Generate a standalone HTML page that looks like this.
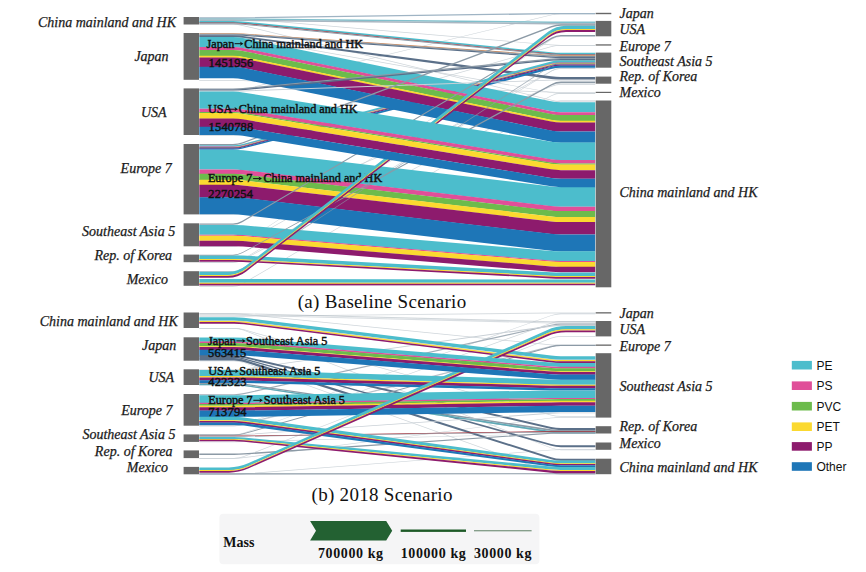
<!DOCTYPE html>
<html><head><meta charset="utf-8"><style>
html,body{margin:0;padding:0;background:#fff;}
svg{display:block;}
.lab{font-family:"Liberation Serif",serif;font-style:italic;font-size:14px;fill:#1a1a1a;stroke:#1a1a1a;stroke-width:0.25px;}
.ft{font-family:"Liberation Serif",serif;font-size:12.2px;fill:#111;stroke:#111;stroke-width:0.45px;}
.num{font-size:12.4px;letter-spacing:0.2px;}
.ttl{font-family:"Liberation Serif",serif;font-size:19px;fill:#111;letter-spacing:0.3px;}
.leg{font-family:"Liberation Sans",sans-serif;font-size:12px;fill:#111;}
.mass{font-family:"Liberation Serif",serif;font-weight:bold;font-size:14px;fill:#111;}
.kg{font-family:"Liberation Serif",serif;font-weight:bold;font-size:14px;fill:#111;letter-spacing:0.6px;}
</style></head><body>
<svg width="866" height="572" viewBox="0 0 866 572">
<path d=" M199.30,24.00 L233.00,24.00 Q238.00,24.00 242.86,25.17 L551.14,99.63 Q556.00,100.80 561.00,100.80 L595.20,100.80 L595.20,101.55 L561.00,101.55 Q556.00,101.55 551.14,100.38 L242.86,25.92 Q238.00,24.75 233.00,24.75 L199.30,24.75 Z" fill="#c9d0d6" fill-opacity="0.9"/>
<path d=" M199.30,80.00 L233.00,80.00 Q238.00,80.00 243.00,80.19 L551.00,91.81 Q556.00,92.00 561.00,92.00 L595.20,92.00 L595.20,92.75 L561.00,92.75 Q556.00,92.75 551.00,92.56 L243.00,80.94 Q238.00,80.75 233.00,80.75 L199.30,80.75 Z" fill="#c9d0d6" fill-opacity="0.9"/>
<path d=" M199.30,135.00 L233.00,135.00 Q238.00,135.00 242.81,133.64 L551.19,46.36 Q556.00,45.00 561.00,45.00 L595.20,45.00 L595.20,45.75 L561.00,45.75 Q556.00,45.75 551.19,47.11 L242.81,134.39 Q238.00,135.75 233.00,135.75 L199.30,135.75 Z" fill="#c9d0d6" fill-opacity="0.9"/>
<path d=" M199.30,214.00 L233.00,214.00 Q238.00,214.00 242.63,212.11 L551.37,85.89 Q556.00,84.00 561.00,84.00 L595.20,84.00 L595.20,84.75 L561.00,84.75 Q556.00,84.75 551.37,86.64 L242.63,212.86 Q238.00,214.75 233.00,214.75 L199.30,214.75 Z" fill="#c9d0d6" fill-opacity="0.9"/>
<path d=" M199.30,246.00 L233.00,246.00 Q238.00,246.00 242.36,243.56 L551.64,70.44 Q556.00,68.00 561.00,68.00 L595.20,68.00 L595.20,68.75 L561.00,68.75 Q556.00,68.75 551.64,71.19 L242.36,244.31 Q238.00,246.75 233.00,246.75 L199.30,246.75 Z" fill="#c9d0d6" fill-opacity="0.9"/>
<path d=" M199.30,262.00 L233.00,262.00 Q238.00,262.00 242.42,259.65 L551.58,95.35 Q556.00,93.00 561.00,93.00 L595.20,93.00 L595.20,93.75 L561.00,93.75 Q556.00,93.75 551.58,96.10 L242.42,260.40 Q238.00,262.75 233.00,262.75 L199.30,262.75 Z" fill="#c9d0d6" fill-opacity="0.9"/>
<path d=" M199.30,246.30 L233.00,246.30 Q238.00,246.30 242.17,243.54 L551.83,38.76 Q556.00,36.00 561.00,36.00 L595.20,36.00 L595.20,36.75 L561.00,36.75 Q556.00,36.75 551.83,39.51 L242.17,244.19 Q238.00,246.95 233.00,246.95 L199.30,246.95 Z" fill="#c9d0d6" fill-opacity="0.9"/>
<path d=" M199.30,262.00 L233.00,262.00 Q238.00,262.00 242.27,259.40 L551.73,70.60 Q556.00,68.00 561.00,68.00 L595.20,68.00 L595.20,68.65 L561.00,68.65 Q556.00,68.65 551.73,71.25 L242.27,260.05 Q238.00,262.65 233.00,262.65 L199.30,262.65 Z" fill="#c9d0d6" fill-opacity="0.9"/>
<path d=" M199.30,286.00 L233.00,286.00 Q238.00,286.00 242.32,283.48 L551.68,103.02 Q556.00,100.50 561.00,100.50 L595.20,100.50 L595.20,101.15 L561.00,101.15 Q556.00,101.15 551.68,103.67 L242.32,284.23 Q238.00,286.75 233.00,286.75 L199.30,286.75 Z" fill="#c9d0d6" fill-opacity="0.9"/>
<path d=" M199.30,18.00 L233.00,18.00 Q238.00,18.00 242.98,18.42 L551.02,44.58 Q556.00,45.00 561.00,45.00 L595.20,45.00 L595.20,45.65 L561.00,45.65 Q556.00,45.65 551.02,45.23 L242.98,19.07 Q238.00,18.65 233.00,18.65 L199.30,18.65 Z" fill="#c9d0d6" fill-opacity="0.9"/>
<path d=" M199.30,36.50 L233.00,36.50 Q238.00,36.50 242.92,37.37 L551.08,92.13 Q556.00,93.00 561.00,93.00 L595.20,93.00 L595.20,93.65 L561.00,93.65 Q556.00,93.65 551.08,92.78 L242.92,38.02 Q238.00,37.15 233.00,37.15 L199.30,37.15 Z" fill="#c9d0d6" fill-opacity="0.9"/>
<path d=" M199.30,90.50 L233.00,90.50 Q238.00,90.50 242.86,89.32 L551.14,14.68 Q556.00,13.50 561.00,13.50 L595.20,13.50 L595.20,14.15 L561.00,14.15 Q556.00,14.15 551.14,15.33 L242.86,89.97 Q238.00,91.15 233.00,91.15 L199.30,91.15 Z" fill="#c9d0d6" fill-opacity="0.9"/>
<path d=" M199.30,17.30 L233.00,17.30 Q238.00,17.30 243.00,17.23 L551.00,12.97 Q556.00,12.90 561.00,12.90 L595.20,12.90 L595.20,14.25 L561.00,14.25 Q556.00,14.25 551.00,14.32 L243.00,18.48 Q238.00,18.55 233.00,18.55 L199.30,18.55 Z" fill="#9fb4c4"/>
<path d=" M199.30,18.40 L233.00,18.40 Q238.00,18.40 243.00,18.45 L551.00,21.45 Q556.00,21.50 561.00,21.50 L595.20,21.50 L595.20,23.05 L561.00,23.05 Q556.00,23.05 551.00,23.00 L243.00,19.80 Q238.00,19.75 233.00,19.75 L199.30,19.75 Z" fill="#7fc0cc"/>
<path d=" M199.30,19.60 L233.00,19.60 Q238.00,19.60 243.00,19.65 L551.00,22.85 Q556.00,22.90 561.00,22.90 L595.20,22.90 L595.20,24.45 L561.00,24.45 Q556.00,24.45 551.00,24.39 L243.00,21.01 Q238.00,20.95 233.00,20.95 L199.30,20.95 Z" fill="#a9b7c2"/>
<path d=" M199.30,21.00 L233.00,21.00 Q238.00,21.00 242.98,21.50 L551.02,52.20 Q556.00,52.70 561.00,52.70 L595.20,52.70 L595.20,54.15 L561.00,54.15 Q556.00,54.15 551.02,53.66 L242.98,23.14 Q238.00,22.65 233.00,22.65 L199.30,22.65 Z" fill="#4cbdcc"/>
<path d=" M199.30,22.50 L233.00,22.50 Q238.00,22.50 242.98,22.99 L551.02,53.51 Q556.00,54.00 561.00,54.00 L595.20,54.00 L595.20,54.71 L561.00,54.71 Q556.00,54.71 551.02,54.22 L242.98,23.78 Q238.00,23.29 233.00,23.29 L199.30,23.29 Z" fill="#a0303a"/>
<path d=" M199.30,23.14 L233.00,23.14 Q238.00,23.14 242.98,23.63 L551.02,54.07 Q556.00,54.56 561.00,54.56 L595.20,54.56 L595.20,55.45 L561.00,55.45 Q556.00,55.45 551.02,54.96 L242.98,24.64 Q238.00,24.15 233.00,24.15 L199.30,24.15 Z" fill="#8c9aa6"/>
<path d=" M199.30,33.20 L233.00,33.20 Q238.00,33.20 242.99,33.55 L551.01,54.95 Q556.00,55.30 561.00,55.30 L595.20,55.30 L595.20,56.10 L561.00,56.10 Q556.00,56.10 551.01,55.75 L242.99,34.22 Q238.00,33.88 233.00,33.88 L199.30,33.88 Z" fill="#d08a5a"/>
<path d=" M199.30,33.73 L233.00,33.73 Q238.00,33.73 242.99,34.07 L551.01,55.60 Q556.00,55.95 561.00,55.95 L595.20,55.95 L595.20,56.97 L561.00,56.97 Q556.00,56.97 551.01,56.62 L242.99,34.93 Q238.00,34.57 233.00,34.57 L199.30,34.57 Z" fill="#8c9aa6"/>
<path d=" M199.30,34.42 L233.00,34.42 Q238.00,34.42 242.99,34.78 L551.01,56.47 Q556.00,56.82 561.00,56.82 L595.20,56.82 L595.20,58.05 L561.00,58.05 Q556.00,58.05 551.01,57.70 L242.99,35.80 Q238.00,35.45 233.00,35.45 L199.30,35.45 Z" fill="#5b7089"/>
<path d=" M199.30,35.30 L233.00,35.30 Q238.00,35.30 242.96,35.95 L551.04,76.35 Q556.00,77.00 561.00,77.00 L595.20,77.00 L595.20,79.65 L561.00,79.65 Q556.00,79.65 551.04,78.99 L242.96,37.71 Q238.00,37.05 233.00,37.05 L199.30,37.05 Z" fill="#5b7089"/>
<path d=" M199.30,145.20 L233.00,145.20 Q238.00,145.20 242.83,143.91 L551.17,61.49 Q556.00,60.20 561.00,60.20 L595.20,60.20 L595.20,62.63 L561.00,62.63 Q556.00,62.63 551.17,63.91 L242.83,145.46 Q238.00,146.73 233.00,146.73 L199.30,146.73 Z" fill="#4cbdcc"/>
<path d=" M199.30,146.58 L233.00,146.58 Q238.00,146.58 242.83,145.31 L551.17,63.76 Q556.00,62.48 561.00,62.48 L595.20,62.48 L595.20,63.20 L561.00,63.20 Q556.00,63.20 551.17,64.47 L242.83,145.81 Q238.00,147.08 233.00,147.08 L199.30,147.08 Z" fill="#e04f99"/>
<path d=" M199.30,146.93 L233.00,146.93 Q238.00,146.93 242.83,145.66 L551.17,64.32 Q556.00,63.05 561.00,63.05 L595.20,63.05 L595.20,63.77 L561.00,63.77 Q556.00,63.77 551.16,65.04 L242.84,146.15 Q238.00,147.43 233.00,147.43 L199.30,147.43 Z" fill="#fbd930"/>
<path d=" M199.30,147.28 L233.00,147.28 Q238.00,147.28 242.84,146.00 L551.16,64.89 Q556.00,63.62 561.00,63.62 L595.20,63.62 L595.20,64.62 L561.00,64.62 Q556.00,64.62 551.16,65.89 L242.84,146.68 Q238.00,147.95 233.00,147.95 L199.30,147.95 Z" fill="#5b7089"/>
<path d=" M199.30,147.80 L233.00,147.80 Q238.00,147.80 242.84,146.53 L551.16,65.74 Q556.00,64.47 561.00,64.47 L595.20,64.47 L595.20,65.76 L561.00,65.76 Q556.00,65.76 551.16,67.02 L242.84,147.38 Q238.00,148.64 233.00,148.64 L199.30,148.64 Z" fill="#8d1b6d"/>
<path d=" M199.30,148.49 L233.00,148.49 Q238.00,148.49 242.84,147.23 L551.16,66.87 Q556.00,65.61 561.00,65.61 L595.20,65.61 L595.20,67.75 L561.00,67.75 Q556.00,67.75 551.16,69.00 L242.84,148.60 Q238.00,149.85 233.00,149.85 L199.30,149.85 Z" fill="#1e76b7"/>
<path d=" M199.30,149.70 L233.00,149.70 Q238.00,149.70 242.97,150.28 L551.03,186.42 Q556.00,187.00 561.00,187.00 L595.20,187.00 L595.20,206.85 L561.00,206.85 Q556.00,206.85 551.03,206.27 L242.97,170.19 Q238.00,169.61 233.00,169.61 L199.30,169.61 Z" fill="#4cbdcc"/>
<path d=" M199.30,169.46 L233.00,169.46 Q238.00,169.46 242.97,170.04 L551.03,206.12 Q556.00,206.70 561.00,206.70 L595.20,206.70 L595.20,211.25 L561.00,211.25 Q556.00,211.25 551.03,210.67 L242.97,174.61 Q238.00,174.02 233.00,174.02 L199.30,174.02 Z" fill="#e04f99"/>
<path d=" M199.30,173.87 L233.00,173.87 Q238.00,173.87 242.97,174.46 L551.03,210.52 Q556.00,211.10 561.00,211.10 L595.20,211.10 L595.20,217.15 L561.00,217.15 Q556.00,217.15 551.03,216.57 L242.97,180.52 Q238.00,179.94 233.00,179.94 L199.30,179.94 Z" fill="#6cbb4c"/>
<path d=" M199.30,179.79 L233.00,179.79 Q238.00,179.79 242.97,180.37 L551.03,216.42 Q556.00,217.00 561.00,217.00 L595.20,217.00 L595.20,222.15 L561.00,222.15 Q556.00,222.15 551.03,221.57 L242.97,185.54 Q238.00,184.96 233.00,184.96 L199.30,184.96 Z" fill="#fbd930"/>
<path d=" M199.30,184.81 L233.00,184.81 Q238.00,184.81 242.97,185.39 L551.03,221.42 Q556.00,222.00 561.00,222.00 L595.20,222.00 L595.20,234.55 L561.00,234.55 Q556.00,234.55 551.03,233.97 L242.97,197.98 Q238.00,197.40 233.00,197.40 L199.30,197.40 Z" fill="#8d1b6d"/>
<path d=" M199.30,197.25 L233.00,197.25 Q238.00,197.25 242.97,197.83 L551.03,233.82 Q556.00,234.40 561.00,234.40 L595.20,234.40 L595.20,251.45 L561.00,251.45 Q556.00,251.45 551.03,250.87 L242.97,214.93 Q238.00,214.35 233.00,214.35 L199.30,214.35 Z" fill="#1e76b7"/>
<path d=" M199.30,224.90 L233.00,224.90 Q238.00,224.90 242.98,225.31 L551.02,250.89 Q556.00,251.30 561.00,251.30 L595.20,251.30 L595.20,261.05 L561.00,261.05 Q556.00,261.05 551.02,260.64 L242.98,235.25 Q238.00,234.84 233.00,234.84 L199.30,234.84 Z" fill="#4cbdcc"/>
<path d=" M199.30,234.69 L233.00,234.69 Q238.00,234.69 242.98,235.10 L551.02,260.49 Q556.00,260.90 561.00,260.90 L595.20,260.90 L595.20,262.05 L561.00,262.05 Q556.00,262.05 551.02,261.64 L242.98,236.27 Q238.00,235.85 233.00,235.85 L199.30,235.85 Z" fill="#e04f99"/>
<path d=" M199.30,235.70 L233.00,235.70 Q238.00,235.70 242.98,236.12 L551.02,261.49 Q556.00,261.90 561.00,261.90 L595.20,261.90 L595.20,266.95 L561.00,266.95 Q556.00,266.95 551.02,266.54 L242.98,241.26 Q238.00,240.85 233.00,240.85 L199.30,240.85 Z" fill="#fbd930"/>
<path d=" M199.30,240.70 L233.00,240.70 Q238.00,240.70 242.98,241.11 L551.02,266.39 Q556.00,266.80 561.00,266.80 L595.20,266.80 L595.20,272.15 L561.00,272.15 Q556.00,272.15 551.02,271.74 L242.98,246.56 Q238.00,246.15 233.00,246.15 L199.30,246.15 Z" fill="#8d1b6d"/>
<path d=" M199.30,255.30 L233.00,255.30 Q238.00,255.30 242.99,255.57 L551.01,272.23 Q556.00,272.50 561.00,272.50 L595.20,272.50 L595.20,276.21 L561.00,276.21 Q556.00,276.21 551.01,275.95 L242.99,259.46 Q238.00,259.19 233.00,259.19 L199.30,259.19 Z" fill="#4cbdcc"/>
<path d=" M199.30,259.04 L233.00,259.04 Q238.00,259.04 242.99,259.31 L551.01,275.80 Q556.00,276.06 561.00,276.06 L595.20,276.06 L595.20,277.15 L561.00,277.15 Q556.00,277.15 551.01,276.88 L242.99,260.44 Q238.00,260.18 233.00,260.18 L199.30,260.18 Z" fill="#fbd930"/>
<path d=" M199.30,260.03 L233.00,260.03 Q238.00,260.03 242.99,260.29 L551.01,276.73 Q556.00,277.00 561.00,277.00 L595.20,277.00 L595.20,278.65 L561.00,278.65 Q556.00,278.65 551.01,278.38 L242.99,262.02 Q238.00,261.75 233.00,261.75 L199.30,261.75 Z" fill="#8d1b6d"/>
<path d=" M199.30,279.00 L233.00,279.00 Q238.00,279.00 243.00,279.01 L551.00,279.49 Q556.00,279.50 561.00,279.50 L595.20,279.50 L595.20,282.84 L561.00,282.84 Q556.00,282.84 551.00,282.84 L243.00,282.81 Q238.00,282.81 233.00,282.81 L199.30,282.81 Z" fill="#4cbdcc"/>
<path d=" M199.30,282.66 L233.00,282.66 Q238.00,282.66 243.00,282.66 L551.00,282.69 Q556.00,282.69 561.00,282.69 L595.20,282.69 L595.20,283.82 L561.00,283.82 Q556.00,283.82 551.00,283.82 L243.00,283.92 Q238.00,283.93 233.00,283.93 L199.30,283.93 Z" fill="#fbd930"/>
<path d=" M199.30,283.78 L233.00,283.78 Q238.00,283.78 243.00,283.77 L551.00,283.67 Q556.00,283.67 561.00,283.67 L595.20,283.67 L595.20,285.15 L561.00,285.15 Q556.00,285.15 551.00,285.15 L243.00,285.45 Q238.00,285.45 233.00,285.45 L199.30,285.45 Z" fill="#8d1b6d"/>
<path d=" M199.30,36.90 L233.00,36.90 Q238.00,36.90 242.90,37.91 L551.10,101.29 Q556.00,102.30 561.00,102.30 L595.20,102.30 L595.20,112.30 L561.00,112.30 Q556.00,112.30 551.10,111.30 L242.90,48.15 Q238.00,47.15 233.00,47.15 L199.30,47.15 Z" fill="#4cbdcc"/>
<path d=" M199.30,47.00 L233.00,47.00 Q238.00,47.00 242.90,48.00 L551.10,111.15 Q556.00,112.15 561.00,112.15 L595.20,112.15 L595.20,115.13 L561.00,115.13 Q556.00,115.13 551.10,114.13 L242.90,51.05 Q238.00,50.05 233.00,50.05 L199.30,50.05 Z" fill="#e04f99"/>
<path d=" M199.30,49.90 L233.00,49.90 Q238.00,49.90 242.90,50.90 L551.10,113.98 Q556.00,114.98 561.00,114.98 L595.20,114.98 L595.20,120.89 L561.00,120.89 Q556.00,120.89 551.10,119.89 L242.90,56.95 Q238.00,55.95 233.00,55.95 L199.30,55.95 Z" fill="#6cbb4c"/>
<path d=" M199.30,55.80 L233.00,55.80 Q238.00,55.80 242.90,56.80 L551.10,119.74 Q556.00,120.74 561.00,120.74 L595.20,120.74 L595.20,122.65 L561.00,122.65 Q556.00,122.65 551.10,121.65 L242.90,58.75 Q238.00,57.75 233.00,57.75 L199.30,57.75 Z" fill="#fbd930"/>
<path d=" M199.30,57.60 L233.00,57.60 Q238.00,57.60 242.90,58.60 L551.10,121.50 Q556.00,122.50 561.00,122.50 L595.20,122.50 L595.20,131.62 L561.00,131.62 Q556.00,131.62 551.10,130.63 L242.90,67.95 Q238.00,66.95 233.00,66.95 L199.30,66.95 Z" fill="#8d1b6d"/>
<path d=" M199.30,66.80 L233.00,66.80 Q238.00,66.80 242.90,67.80 L551.10,130.48 Q556.00,131.47 561.00,131.47 L595.20,131.47 L595.20,142.65 L561.00,142.65 Q556.00,142.65 551.10,141.66 L242.90,79.24 Q238.00,78.25 233.00,78.25 L199.30,78.25 Z" fill="#1e76b7"/>
<text x="206.5" y="47.6" class="ft" text-anchor="start">Japan</text>
<path d="M234.60,43.70 H241.00" stroke="#111" stroke-width="1.0" fill="none"/><path d="M240.00,41.60 L243.40,43.70 L240.00,45.80 L240.80,43.70 Z" fill="#111"/>
<text x="244.3" y="47.6" class="ft" text-anchor="start">China mainland and HK</text>
<text x="208.6" y="67.3" class="ft num" text-anchor="start">1451956</text>
<path d=" M199.30,88.50 L233.00,88.50 Q238.00,88.50 242.98,88.02 L551.02,58.38 Q556.00,57.90 561.00,57.90 L595.20,57.90 L595.20,59.20 L561.00,59.20 Q556.00,59.20 551.02,59.68 L242.98,89.22 Q238.00,89.70 233.00,89.70 L199.30,89.70 Z" fill="#8c9aa6"/>
<path d=" M199.30,89.55 L233.00,89.55 Q238.00,89.55 242.98,89.07 L551.02,59.53 Q556.00,59.05 561.00,59.05 L595.20,59.05 L595.20,60.35 L561.00,60.35 Q556.00,60.35 551.02,60.83 L242.98,90.27 Q238.00,90.75 233.00,90.75 L199.30,90.75 Z" fill="#5b7089"/>
<path d=" M199.30,90.60 L233.00,90.60 Q238.00,90.60 243.00,90.43 L551.00,79.67 Q556.00,79.50 561.00,79.50 L595.20,79.50 L595.20,80.45 L561.00,80.45 Q556.00,80.45 551.00,80.62 L243.00,91.38 Q238.00,91.55 233.00,91.55 L199.30,91.55 Z" fill="#c9d0d6"/>
<path d=" M199.30,144.10 L233.00,144.10 Q238.00,144.10 242.68,142.34 L551.32,26.06 Q556.00,24.30 561.00,24.30 L595.20,24.30 L595.20,25.85 L561.00,25.85 Q556.00,25.85 551.32,27.61 L242.68,143.59 Q238.00,145.35 233.00,145.35 L199.30,145.35 Z" fill="#8c9aa6"/>
<path d=" M199.30,223.40 L233.00,223.40 Q238.00,223.40 242.30,220.85 L551.70,37.55 Q556.00,35.00 561.00,35.00 L595.20,35.00 L595.20,36.35 L561.00,36.35 Q556.00,36.35 551.70,38.90 L242.30,222.20 Q238.00,224.75 233.00,224.75 L199.30,224.75 Z" fill="#8c9aa6"/>
<path d=" M199.30,254.70 L233.00,254.70 Q238.00,254.70 242.39,252.31 L551.61,83.89 Q556.00,81.50 561.00,81.50 L595.20,81.50 L595.20,83.15 L561.00,83.15 Q556.00,83.15 551.60,85.53 L242.40,253.07 Q238.00,255.45 233.00,255.45 L199.30,255.45 Z" fill="#8c9aa6"/>
<path d=" M199.30,271.30 L233.00,271.30 Q238.00,271.30 242.18,268.55 L551.82,64.75 Q556.00,62.00 561.00,62.00 L595.20,62.00 L595.20,62.95 L561.00,62.95 Q556.00,62.95 551.82,65.70 L242.18,269.30 Q238.00,272.05 233.00,272.05 L199.30,272.05 Z" fill="#8c9aa6" fill-opacity="0.7"/>
<text x="207.9" y="181.9" class="ft" text-anchor="start">Europe 7</text>
<path d="M253.10,178.60 H259.50" stroke="#111" stroke-width="1.0" fill="none"/><path d="M258.50,176.50 L261.90,178.60 L258.50,180.70 L259.30,178.60 Z" fill="#111"/>
<text x="263.4" y="181.9" class="ft" text-anchor="start">China mainland and HK</text>
<text x="208.3" y="197.7" class="ft num" text-anchor="start">2270254</text>
<path d=" M199.30,271.80 L228.00,271.80 Q238.00,271.80 245.91,265.68 L548.09,31.82 Q556.00,25.70 566.00,25.70 L595.20,25.70 L595.20,29.20 L566.00,29.20 Q556.00,29.20 548.09,35.32 L245.91,269.02 Q238.00,275.14 228.00,275.14 L199.30,275.14 Z" fill="#4cbdcc"/>
<path d=" M199.30,274.99 L228.00,274.99 Q238.00,274.99 245.91,268.87 L548.09,35.17 Q556.00,29.05 566.00,29.05 L595.20,29.05 L595.20,30.22 L566.00,30.22 Q556.00,30.22 548.09,36.34 L245.91,269.99 Q238.00,276.11 228.00,276.11 L199.30,276.11 Z" fill="#fbd930"/>
<path d=" M199.30,275.96 L228.00,275.96 Q238.00,275.96 245.91,269.84 L548.09,36.19 Q556.00,30.07 566.00,30.07 L595.20,30.07 L595.20,31.95 L566.00,31.95 Q556.00,31.95 548.09,38.07 L245.91,271.63 Q238.00,277.75 228.00,277.75 L199.30,277.75 Z" fill="#8d1b6d"/>
<path d=" M199.30,91.60 L233.00,91.60 Q238.00,91.60 242.94,92.39 L551.06,141.71 Q556.00,142.50 561.00,142.50 L595.20,142.50 L595.20,160.19 L561.00,160.19 Q556.00,160.19 551.06,159.39 L242.94,109.61 Q238.00,108.81 233.00,108.81 L199.30,108.81 Z" fill="#4cbdcc"/>
<path d=" M199.30,108.66 L233.00,108.66 Q238.00,108.66 242.94,109.46 L551.06,159.24 Q556.00,160.04 561.00,160.04 L595.20,160.04 L595.20,163.53 L561.00,163.53 Q556.00,163.53 551.06,162.73 L242.94,112.87 Q238.00,112.07 233.00,112.07 L199.30,112.07 Z" fill="#e04f99"/>
<path d=" M199.30,111.92 L233.00,111.92 Q238.00,111.92 242.94,112.72 L551.06,162.58 Q556.00,163.38 561.00,163.38 L595.20,163.38 L595.20,164.75 L561.00,164.75 Q556.00,164.75 551.06,163.95 L242.94,114.05 Q238.00,113.25 233.00,113.25 L199.30,113.25 Z" fill="#6cbb4c"/>
<path d=" M199.30,113.10 L233.00,113.10 Q238.00,113.10 242.94,113.90 L551.06,163.80 Q556.00,164.60 561.00,164.60 L595.20,164.60 L595.20,170.32 L561.00,170.32 Q556.00,170.32 551.06,169.52 L242.94,119.48 Q238.00,118.68 233.00,118.68 L199.30,118.68 Z" fill="#fbd930"/>
<path d=" M199.30,118.53 L233.00,118.53 Q238.00,118.53 242.94,119.33 L551.06,169.37 Q556.00,170.17 561.00,170.17 L595.20,170.17 L595.20,178.84 L561.00,178.84 Q556.00,178.84 551.07,178.03 L242.93,127.77 Q238.00,126.96 233.00,126.96 L199.30,126.96 Z" fill="#8d1b6d"/>
<path d=" M199.30,126.81 L233.00,126.81 Q238.00,126.81 242.93,127.62 L551.07,177.88 Q556.00,178.69 561.00,178.69 L595.20,178.69 L595.20,187.15 L561.00,187.15 Q556.00,187.15 551.07,186.34 L242.93,135.86 Q238.00,135.05 233.00,135.05 L199.30,135.05 Z" fill="#1e76b7"/>
<text x="207.9" y="112.5" class="ft" text-anchor="start">USA</text>
<path d="M228.60,109.20 H235.50" stroke="#111" stroke-width="1.0" fill="none"/><path d="M234.50,107.10 L237.90,109.20 L234.50,111.30 L235.30,109.20 Z" fill="#111"/>
<text x="238.8" y="112.5" class="ft" text-anchor="start">China mainland and HK</text>
<text x="208.6" y="130.5" class="ft num" text-anchor="start">1540788</text>
<path d=" M199.30,313.50 L234.00,313.50 Q239.00,313.50 243.98,313.99 L551.02,344.51 Q556.00,345.00 561.00,345.00 L595.40,345.00 L595.40,345.75 L561.00,345.75 Q556.00,345.75 551.02,345.26 L243.98,314.84 Q239.00,314.35 234.00,314.35 L199.30,314.35 Z" fill="#c9d0d6" fill-opacity="0.9"/>
<path d=" M199.30,328.00 L234.00,328.00 Q239.00,328.00 243.82,329.34 L551.18,414.66 Q556.00,416.00 561.00,416.00 L595.40,416.00 L595.40,416.75 L561.00,416.75 Q556.00,416.75 551.18,415.41 L243.82,330.09 Q239.00,328.75 234.00,328.75 L199.30,328.75 Z" fill="#c9d0d6" fill-opacity="0.9"/>
<path d=" M199.30,384.50 L234.00,384.50 Q239.00,384.50 243.94,385.26 L551.06,432.24 Q556.00,433.00 561.00,433.00 L595.40,433.00 L595.40,433.65 L561.00,433.65 Q556.00,433.65 551.06,432.89 L243.94,385.91 Q239.00,385.15 234.00,385.15 L199.30,385.15 Z" fill="#c9d0d6" fill-opacity="0.9"/>
<path d=" M199.30,425.50 L234.00,425.50 Q239.00,425.50 243.85,424.27 L551.15,346.43 Q556.00,345.20 561.00,345.20 L595.40,345.20 L595.40,345.95 L561.00,345.95 Q556.00,345.95 551.15,347.18 L243.85,424.92 Q239.00,426.15 234.00,426.15 L199.30,426.15 Z" fill="#c9d0d6" fill-opacity="0.9"/>
<path d=" M199.30,441.50 L234.00,441.50 Q239.00,441.50 244.00,441.37 L551.00,433.33 Q556.00,433.20 561.00,433.20 L595.40,433.20 L595.40,433.85 L561.00,433.85 Q556.00,433.85 551.00,433.98 L244.00,442.02 Q239.00,442.15 234.00,442.15 L199.30,442.15 Z" fill="#c9d0d6" fill-opacity="0.9"/>
<path d=" M199.30,458.00 L234.00,458.00 Q239.00,458.00 243.96,457.36 L551.04,417.64 Q556.00,417.00 561.00,417.00 L595.40,417.00 L595.40,417.65 L561.00,417.65 Q556.00,417.65 551.04,418.29 L243.96,458.01 Q239.00,458.65 234.00,458.65 L199.30,458.65 Z" fill="#c9d0d6" fill-opacity="0.9"/>
<path d=" M199.30,474.00 L234.00,474.00 Q239.00,474.00 243.98,473.61 L551.02,449.69 Q556.00,449.30 561.00,449.30 L595.40,449.30 L595.40,449.95 L561.00,449.95 Q556.00,449.95 551.02,450.34 L243.98,474.26 Q239.00,474.65 234.00,474.65 L199.30,474.65 Z" fill="#c9d0d6" fill-opacity="0.9"/>
<path d=" M199.30,434.50 L234.00,434.50 Q239.00,434.50 243.71,432.81 L551.29,322.69 Q556.00,321.00 561.00,321.00 L595.40,321.00 L595.40,321.75 L561.00,321.75 Q556.00,321.75 551.29,323.43 L243.71,433.47 Q239.00,435.15 234.00,435.15 L199.30,435.15 Z" fill="#c9d0d6" fill-opacity="0.9"/>
<path d=" M199.30,458.00 L234.00,458.00 Q239.00,458.00 243.67,456.20 L551.33,337.80 Q556.00,336.00 561.00,336.00 L595.40,336.00 L595.40,336.65 L561.00,336.65 Q556.00,336.65 551.33,338.45 L243.67,456.95 Q239.00,458.75 234.00,458.75 L199.30,458.75 Z" fill="#c9d0d6" fill-opacity="0.9"/>
<path d=" M199.30,360.50 L234.00,360.50 Q239.00,360.50 243.71,362.19 L551.29,472.31 Q556.00,474.00 561.00,474.00 L595.40,474.00 L595.40,474.65 L561.00,474.65 Q556.00,474.65 551.29,472.96 L243.71,362.84 Q239.00,361.15 234.00,361.15 L199.30,361.15 Z" fill="#c9d0d6" fill-opacity="0.9"/>
<path d=" M199.30,328.00 L234.00,328.00 Q239.00,328.00 243.67,329.79 L551.33,447.71 Q556.00,449.50 561.00,449.50 L595.40,449.50 L595.40,450.15 L561.00,450.15 Q556.00,450.15 551.33,448.36 L243.67,330.44 Q239.00,328.65 234.00,328.65 L199.30,328.65 Z" fill="#c9d0d6" fill-opacity="0.9"/>
<path d=" M199.30,425.50 L234.00,425.50 Q239.00,425.50 243.71,423.83 L551.29,315.17 Q556.00,313.50 561.00,313.50 L595.40,313.50 L595.40,314.15 L561.00,314.15 Q556.00,314.15 551.29,315.82 L243.71,424.48 Q239.00,426.15 234.00,426.15 L199.30,426.15 Z" fill="#c9d0d6" fill-opacity="0.9"/>
<path d=" M199.30,313.20 L234.00,313.20 Q239.00,313.20 244.00,313.33 L551.00,321.17 Q556.00,321.30 561.00,321.30 L595.40,321.30 L595.40,322.45 L561.00,322.45 Q556.00,322.45 551.00,322.32 L244.00,314.28 Q239.00,314.15 234.00,314.15 L199.30,314.15 Z" fill="#8c9aa6" fill-opacity="0.4"/>
<path d=" M199.30,314.60 L234.00,314.60 Q239.00,314.60 244.00,314.72 L551.00,322.38 Q556.00,322.50 561.00,322.50 L595.40,322.50 L595.40,323.55 L561.00,323.55 Q556.00,323.55 551.00,323.42 L244.00,315.68 Q239.00,315.55 234.00,315.55 L199.30,315.55 Z" fill="#c9d0d6" fill-opacity="0.7"/>
<path d=" M199.30,315.80 L234.00,315.80 Q239.00,315.80 244.00,315.75 L551.00,312.45 Q556.00,312.40 561.00,312.40 L595.40,312.40 L595.40,313.45 L561.00,313.45 Q556.00,313.45 551.00,313.50 L244.00,316.70 Q239.00,316.75 234.00,316.75 L199.30,316.75 Z" fill="#8c9aa6" fill-opacity="0.35"/>
<path d=" M199.30,394.20 L234.00,394.20 Q239.00,394.20 243.88,393.11 L551.12,324.69 Q556.00,323.60 561.00,323.60 L595.40,323.60 L595.40,324.75 L561.00,324.75 Q556.00,324.75 551.12,325.84 L243.88,394.16 Q239.00,395.25 234.00,395.25 L199.30,395.25 Z" fill="#8c9aa6" fill-opacity="0.8"/>
<path d=" M199.30,424.60 L234.00,424.60 Q239.00,424.60 243.85,423.38 L551.15,345.82 Q556.00,344.60 561.00,344.60 L595.40,344.60 L595.40,345.65 L561.00,345.65 Q556.00,345.65 551.15,346.87 L243.85,424.33 Q239.00,425.55 234.00,425.55 L199.30,425.55 Z" fill="#8c9aa6" fill-opacity="0.6"/>
<path d=" M199.30,369.40 L234.00,369.40 Q239.00,369.40 243.95,368.70 L551.05,325.50 Q556.00,324.80 561.00,324.80 L595.40,324.80 L595.40,325.95 L561.00,325.95 Q556.00,325.95 551.05,326.64 L243.95,369.46 Q239.00,370.15 234.00,370.15 L199.30,370.15 Z" fill="#c9d0d6"/>
<path d=" M199.30,355.00 L234.00,355.00 Q239.00,355.00 243.87,356.12 L551.13,426.88 Q556.00,428.00 561.00,428.00 L595.40,428.00 L595.40,430.15 L561.00,430.15 Q556.00,430.15 551.13,429.03 L243.87,358.07 Q239.00,356.95 234.00,356.95 L199.30,356.95 Z" fill="#5b7089"/>
<path d=" M199.30,356.80 L234.00,356.80 Q239.00,356.80 243.82,358.14 L551.18,443.96 Q556.00,445.30 561.00,445.30 L595.40,445.30 L595.40,447.15 L561.00,447.15 Q556.00,447.15 551.19,445.80 L243.81,359.50 Q239.00,358.15 234.00,358.15 L199.30,358.15 Z" fill="#5b7089"/>
<path d=" M199.30,358.00 L234.00,358.00 Q239.00,358.00 243.76,359.52 L551.24,457.28 Q556.00,458.80 561.00,458.80 L595.40,458.80 L595.40,460.75 L561.00,460.75 Q556.00,460.75 551.23,459.24 L243.77,361.96 Q239.00,360.45 234.00,360.45 L199.30,360.45 Z" fill="#5b7089"/>
<path d=" M199.30,382.80 L234.00,382.80 Q239.00,382.80 243.95,383.54 L551.05,429.26 Q556.00,430.00 561.00,430.00 L595.40,430.00 L595.40,431.80 L561.00,431.80 Q556.00,431.80 551.06,431.06 L243.94,384.79 Q239.00,384.05 234.00,384.05 L199.30,384.05 Z" fill="#8c9aa6"/>
<path d=" M199.30,383.90 L234.00,383.90 Q239.00,383.90 243.94,384.64 L551.06,430.91 Q556.00,431.65 561.00,431.65 L595.40,431.65 L595.40,433.45 L561.00,433.45 Q556.00,433.45 551.06,432.70 L243.94,385.90 Q239.00,385.15 234.00,385.15 L199.30,385.15 Z" fill="#5ea9b6"/>
<path d=" M199.30,453.60 L234.00,453.60 Q239.00,453.60 243.99,453.26 L551.01,432.64 Q556.00,432.30 561.00,432.30 L595.40,432.30 L595.40,433.45 L561.00,433.45 Q556.00,433.45 551.01,433.79 L243.99,454.61 Q239.00,454.95 234.00,454.95 L199.30,454.95 Z" fill="#8c9aa6"/>
<path d=" M199.30,434.60 L234.00,434.60 Q239.00,434.60 243.99,434.25 L551.01,412.85 Q556.00,412.50 561.00,412.50 L595.40,412.50 L595.40,413.35 L561.00,413.35 Q556.00,413.35 551.01,413.70 L243.99,435.00 Q239.00,435.35 234.00,435.35 L199.30,435.35 Z" fill="#c9d0d6"/>
<path d=" M199.30,435.60 L234.00,435.60 Q239.00,435.60 244.00,435.53 L551.00,431.07 Q556.00,431.00 561.00,431.00 L595.40,431.00 L595.40,431.93 L561.00,431.93 Q556.00,431.93 551.00,432.00 L244.00,436.28 Q239.00,436.35 234.00,436.35 L199.30,436.35 Z" fill="#a0303a"/>
<path d=" M199.30,436.20 L234.00,436.20 Q239.00,436.20 244.00,436.13 L551.00,431.85 Q556.00,431.78 561.00,431.78 L595.40,431.78 L595.40,432.45 L561.00,432.45 Q556.00,432.45 551.00,432.52 L244.00,436.68 Q239.00,436.75 234.00,436.75 L199.30,436.75 Z" fill="#8c9aa6"/>
<path d=" M199.30,434.50 L234.00,434.50 Q239.00,434.50 243.81,433.14 L551.19,346.36 Q556.00,345.00 561.00,345.00 L595.40,345.00 L595.40,345.95 L561.00,345.95 Q556.00,345.95 551.19,347.31 L243.81,434.09 Q239.00,435.45 234.00,435.45 L199.30,435.45 Z" fill="#8c9aa6"/>
<path d=" M199.30,473.20 L234.00,473.20 Q239.00,473.20 244.00,473.20 L551.00,473.20 Q556.00,473.20 561.00,473.20 L595.40,473.20 L595.40,474.35 L561.00,474.35 Q556.00,474.35 551.00,474.35 L244.00,474.45 Q239.00,474.45 234.00,474.45 L199.30,474.45 Z" fill="#8c9aa6"/>
<path d=" M199.30,317.20 L234.00,317.20 Q239.00,317.20 243.96,317.81 L551.04,355.59 Q556.00,356.20 561.00,356.20 L595.40,356.20 L595.40,359.80 L561.00,359.80 Q556.00,359.80 551.04,359.19 L243.96,321.26 Q239.00,320.65 234.00,320.65 L199.30,320.65 Z" fill="#4cbdcc"/>
<path d=" M199.30,320.50 L234.00,320.50 Q239.00,320.50 243.96,321.11 L551.04,359.04 Q556.00,359.65 561.00,359.65 L595.40,359.65 L595.40,360.22 L561.00,360.22 Q556.00,360.22 551.04,359.61 L243.96,321.66 Q239.00,321.05 234.00,321.05 L199.30,321.05 Z" fill="#c9d0d6"/>
<path d=" M199.30,320.90 L234.00,320.90 Q239.00,320.90 243.96,321.51 L551.04,359.46 Q556.00,360.07 561.00,360.07 L595.40,360.07 L595.40,361.48 L561.00,361.48 Q556.00,361.48 551.04,360.87 L243.96,322.86 Q239.00,322.25 234.00,322.25 L199.30,322.25 Z" fill="#fbd930"/>
<path d=" M199.30,322.10 L234.00,322.10 Q239.00,322.10 243.96,322.71 L551.04,360.72 Q556.00,361.33 561.00,361.33 L595.40,361.33 L595.40,363.05 L561.00,363.05 Q556.00,363.05 551.04,362.43 L243.96,324.37 Q239.00,323.75 234.00,323.75 L199.30,323.75 Z" fill="#8d1b6d"/>
<path d=" M199.30,370.00 L234.00,370.00 Q239.00,370.00 244.00,370.15 L551.00,379.45 Q556.00,379.60 561.00,379.60 L595.40,379.60 L595.40,384.84 L561.00,384.84 Q556.00,384.84 551.00,384.70 L244.00,376.32 Q239.00,376.18 234.00,376.18 L199.30,376.18 Z" fill="#4cbdcc"/>
<path d=" M199.30,376.03 L234.00,376.03 Q239.00,376.03 244.00,376.17 L551.00,384.55 Q556.00,384.69 561.00,384.69 L595.40,384.69 L595.40,386.00 L561.00,386.00 Q556.00,386.00 551.00,385.86 L244.00,377.69 Q239.00,377.55 234.00,377.55 L199.30,377.55 Z" fill="#fbd930"/>
<path d=" M199.30,377.40 L234.00,377.40 Q239.00,377.40 244.00,377.54 L551.00,385.71 Q556.00,385.85 561.00,385.85 L595.40,385.85 L595.40,388.41 L561.00,388.41 Q556.00,388.41 551.00,388.28 L244.00,380.54 Q239.00,380.41 234.00,380.41 L199.30,380.41 Z" fill="#8d1b6d"/>
<path d=" M199.30,380.26 L234.00,380.26 Q239.00,380.26 244.00,380.39 L551.00,388.13 Q556.00,388.26 561.00,388.26 L595.40,388.26 L595.40,390.55 L561.00,390.55 Q556.00,390.55 551.00,390.43 L244.00,383.07 Q239.00,382.95 234.00,382.95 L199.30,382.95 Z" fill="#1e76b7"/>
<path d=" M199.30,395.30 L234.00,395.30 Q239.00,395.30 244.00,395.22 L551.00,390.48 Q556.00,390.40 561.00,390.40 L595.40,390.40 L595.40,398.05 L561.00,398.05 Q556.00,398.05 551.00,398.13 L244.00,402.88 Q239.00,402.95 234.00,402.95 L199.30,402.95 Z" fill="#4cbdcc"/>
<path d=" M199.30,402.80 L234.00,402.80 Q239.00,402.80 244.00,402.73 L551.00,397.98 Q556.00,397.90 561.00,397.90 L595.40,397.90 L595.40,399.27 L561.00,399.27 Q556.00,399.27 551.00,399.35 L244.00,404.09 Q239.00,404.17 234.00,404.17 L199.30,404.17 Z" fill="#e04f99"/>
<path d=" M199.30,404.02 L234.00,404.02 Q239.00,404.02 244.00,403.94 L551.00,399.20 Q556.00,399.12 561.00,399.12 L595.40,399.12 L595.40,400.89 L561.00,400.89 Q556.00,400.89 551.00,400.97 L244.00,405.72 Q239.00,405.79 234.00,405.79 L199.30,405.79 Z" fill="#6cbb4c"/>
<path d=" M199.30,405.64 L234.00,405.64 Q239.00,405.64 244.00,405.57 L551.00,400.82 Q556.00,400.74 561.00,400.74 L595.40,400.74 L595.40,402.52 L561.00,402.52 Q556.00,402.52 551.00,402.59 L244.00,407.34 Q239.00,407.42 234.00,407.42 L199.30,407.42 Z" fill="#fbd930"/>
<path d=" M199.30,407.27 L234.00,407.27 Q239.00,407.27 244.00,407.19 L551.00,402.44 Q556.00,402.37 561.00,402.37 L595.40,402.37 L595.40,405.86 L561.00,405.86 Q556.00,405.86 551.00,405.94 L244.00,410.69 Q239.00,410.76 234.00,410.76 L199.30,410.76 Z" fill="#8d1b6d"/>
<path d=" M199.30,410.61 L234.00,410.61 Q239.00,410.61 244.00,410.54 L551.00,405.79 Q556.00,405.71 561.00,405.71 L595.40,405.71 L595.40,412.05 L561.00,412.05 Q556.00,412.05 551.00,412.13 L244.00,416.87 Q239.00,416.95 234.00,416.95 L199.30,416.95 Z" fill="#1e76b7"/>
<path d=" M199.30,416.80 L234.00,416.80 Q239.00,416.80 243.95,417.48 L551.05,459.92 Q556.00,460.60 561.00,460.60 L595.40,460.60 L595.40,463.42 L561.00,463.42 Q556.00,463.42 551.05,462.74 L243.95,420.96 Q239.00,420.28 234.00,420.28 L199.30,420.28 Z" fill="#4cbdcc"/>
<path d=" M199.30,420.13 L234.00,420.13 Q239.00,420.13 243.95,420.81 L551.05,462.59 Q556.00,463.27 561.00,463.27 L595.40,463.27 L595.40,464.13 L561.00,464.13 Q556.00,464.13 551.05,463.46 L243.95,421.84 Q239.00,421.17 234.00,421.17 L199.30,421.17 Z" fill="#fbd930"/>
<path d=" M199.30,421.02 L234.00,421.02 Q239.00,421.02 243.95,421.69 L551.05,463.31 Q556.00,463.98 561.00,463.98 L595.40,463.98 L595.40,465.37 L561.00,465.37 Q556.00,465.37 551.04,464.71 L243.96,423.39 Q239.00,422.73 234.00,422.73 L199.30,422.73 Z" fill="#8d1b6d"/>
<path d=" M199.30,422.58 L234.00,422.58 Q239.00,422.58 243.96,423.24 L551.04,464.56 Q556.00,465.22 561.00,465.22 L595.40,465.22 L595.40,467.15 L561.00,467.15 Q556.00,467.15 551.04,466.49 L243.96,425.61 Q239.00,424.95 234.00,424.95 L199.30,424.95 Z" fill="#1e76b7"/>
<path d=" M199.30,437.10 L234.00,437.10 Q239.00,437.10 243.98,437.57 L551.02,466.53 Q556.00,467.00 561.00,467.00 L595.40,467.00 L595.40,470.08 L561.00,470.08 Q556.00,470.08 551.02,469.59 L243.98,439.73 Q239.00,439.25 234.00,439.25 L199.30,439.25 Z" fill="#4cbdcc"/>
<path d=" M199.30,439.10 L234.00,439.10 Q239.00,439.10 243.98,439.58 L551.02,469.44 Q556.00,469.93 561.00,469.93 L595.40,469.93 L595.40,471.10 L561.00,471.10 Q556.00,471.10 551.02,470.61 L243.98,440.44 Q239.00,439.95 234.00,439.95 L199.30,439.95 Z" fill="#fbd930"/>
<path d=" M199.30,439.80 L234.00,439.80 Q239.00,439.80 243.98,440.29 L551.02,470.46 Q556.00,470.95 561.00,470.95 L595.40,470.95 L595.40,473.15 L561.00,473.15 Q556.00,473.15 551.02,472.65 L243.98,441.85 Q239.00,441.35 234.00,441.35 L199.30,441.35 Z" fill="#8d1b6d"/>
<text x="208.3" y="374.9" class="ft" text-anchor="start">USA</text>
<path d="M229.00,371.20 H236.20" stroke="#111" stroke-width="1.0" fill="none"/><path d="M235.20,369.10 L238.60,371.20 L235.20,373.30 L236.00,371.20 Z" fill="#111"/>
<text x="239.2" y="374.9" class="ft" text-anchor="start">Southeast Asia 5</text>
<text x="208.3" y="386.0" class="ft num" text-anchor="start">422323</text>
<text x="208.3" y="404.1" class="ft" text-anchor="start">Europe 7</text>
<path d="M253.30,400.30 H260.40" stroke="#111" stroke-width="1.0" fill="none"/><path d="M259.40,398.20 L262.80,400.30 L259.40,402.40 L260.20,400.30 Z" fill="#111"/>
<text x="263.7" y="404.1" class="ft" text-anchor="start">Southeast Asia 5</text>
<text x="208.3" y="416.0" class="ft num" text-anchor="start">713794</text>
<path d=" M199.30,467.40 L229.00,467.40 Q239.00,467.40 248.13,463.33 L546.87,330.17 Q556.00,326.10 566.00,326.10 L595.40,326.10 L595.40,329.47 L566.00,329.47 Q556.00,329.47 546.86,333.52 L248.14,466.18 Q239.00,470.24 229.00,470.24 L199.30,470.24 Z" fill="#4cbdcc"/>
<path d=" M199.30,470.09 L229.00,470.09 Q239.00,470.09 248.14,466.03 L546.86,333.37 Q556.00,329.32 566.00,329.32 L595.40,329.32 L595.40,330.58 L566.00,330.58 Q556.00,330.58 546.86,334.63 L248.14,467.11 Q239.00,471.17 229.00,471.17 L199.30,471.17 Z" fill="#fbd930"/>
<path d=" M199.30,471.02 L229.00,471.02 Q239.00,471.02 248.14,466.96 L546.86,334.48 Q556.00,330.43 566.00,330.43 L595.40,330.43 L595.40,332.35 L566.00,332.35 Q556.00,332.35 546.86,336.40 L248.14,468.60 Q239.00,472.65 229.00,472.65 L199.30,472.65 Z" fill="#8d1b6d"/>
<path d=" M199.30,337.40 L234.00,337.40 Q239.00,337.40 243.98,337.80 L551.02,362.50 Q556.00,362.90 561.00,362.90 L595.40,362.90 L595.40,366.99 L561.00,366.99 Q556.00,366.99 551.02,366.59 L243.98,342.09 Q239.00,341.70 234.00,341.70 L199.30,341.70 Z" fill="#4cbdcc"/>
<path d=" M199.30,341.55 L234.00,341.55 Q239.00,341.55 243.98,341.94 L551.02,366.44 Q556.00,366.84 561.00,366.84 L595.40,366.84 L595.40,368.42 L561.00,368.42 Q556.00,368.42 551.02,368.03 L243.98,343.61 Q239.00,343.21 234.00,343.21 L199.30,343.21 Z" fill="#e04f99"/>
<path d=" M199.30,343.06 L234.00,343.06 Q239.00,343.06 243.98,343.46 L551.02,367.88 Q556.00,368.27 561.00,368.27 L595.40,368.27 L595.40,371.40 L561.00,371.40 Q556.00,371.40 551.02,371.01 L243.98,346.74 Q239.00,346.35 234.00,346.35 L199.30,346.35 Z" fill="#6cbb4c"/>
<path d=" M199.30,346.20 L234.00,346.20 Q239.00,346.20 243.98,346.59 L551.02,370.86 Q556.00,371.25 561.00,371.25 L595.40,371.25 L595.40,372.07 L561.00,372.07 Q556.00,372.07 551.02,371.68 L243.98,347.45 Q239.00,347.06 234.00,347.06 L199.30,347.06 Z" fill="#fbd930"/>
<path d=" M199.30,346.91 L234.00,346.91 Q239.00,346.91 243.98,347.30 L551.02,371.53 Q556.00,371.92 561.00,371.92 L595.40,371.92 L595.40,374.76 L561.00,374.76 Q556.00,374.76 551.02,374.37 L243.98,350.28 Q239.00,349.89 234.00,349.89 L199.30,349.89 Z" fill="#8d1b6d"/>
<path d=" M199.30,349.74 L234.00,349.74 Q239.00,349.74 243.98,350.13 L551.02,374.22 Q556.00,374.61 561.00,374.61 L595.40,374.61 L595.40,379.75 L561.00,379.75 Q556.00,379.75 551.01,379.36 L243.99,355.54 Q239.00,355.15 234.00,355.15 L199.30,355.15 Z" fill="#1e76b7"/>
<text x="208.1" y="344.6" class="ft" text-anchor="start">Japan</text>
<path d="M236.40,340.90 H243.20" stroke="#111" stroke-width="1.0" fill="none"/><path d="M242.20,338.80 L245.60,340.90 L242.20,343.00 L243.00,340.90 Z" fill="#111"/>
<text x="246.1" y="344.6" class="ft" text-anchor="start">Southeast Asia 5</text>
<text x="208.1" y="357.1" class="ft num" text-anchor="start">563415</text>
<rect x="183.6" y="17" width="15.40" height="7.50" fill="#676767"/>
<rect x="183.6" y="33" width="15.40" height="46.80" fill="#676767"/>
<rect x="183.6" y="88.4" width="15.40" height="46.60" fill="#676767"/>
<rect x="183.6" y="144" width="15.40" height="70.40" fill="#676767"/>
<rect x="183.6" y="223.3" width="15.40" height="23.00" fill="#676767"/>
<rect x="183.6" y="254.6" width="15.40" height="7.60" fill="#676767"/>
<rect x="183.6" y="271.2" width="15.40" height="14.60" fill="#676767"/>
<rect x="595.7" y="12.8" width="15.60" height="1.40" fill="#676767"/>
<rect x="595.7" y="20.9" width="15.60" height="15.40" fill="#676767"/>
<rect x="595.7" y="44.3" width="15.60" height="1.30" fill="#676767"/>
<rect x="595.7" y="52.6" width="15.60" height="15.10" fill="#676767"/>
<rect x="595.7" y="76.6" width="15.60" height="7.10" fill="#676767"/>
<rect x="595.7" y="91.8" width="15.60" height="1.20" fill="#676767"/>
<rect x="595.7" y="100.5" width="15.60" height="186.80" fill="#676767"/>
<rect x="183.6" y="312.5" width="15.40" height="15.50" fill="#676767"/>
<rect x="183.6" y="337.3" width="15.40" height="23.40" fill="#676767"/>
<rect x="183.6" y="369.3" width="15.40" height="15.70" fill="#676767"/>
<rect x="183.6" y="394" width="15.40" height="31.70" fill="#676767"/>
<rect x="183.6" y="434.4" width="15.40" height="7.50" fill="#676767"/>
<rect x="183.6" y="450.4" width="15.40" height="7.70" fill="#676767"/>
<rect x="183.6" y="466.9" width="15.40" height="7.40" fill="#676767"/>
<rect x="595.7" y="312.2" width="15.60" height="1.30" fill="#676767"/>
<rect x="595.7" y="321" width="15.60" height="15.40" fill="#676767"/>
<rect x="595.7" y="344.5" width="15.60" height="1.30" fill="#676767"/>
<rect x="595.7" y="353.2" width="15.60" height="64.40" fill="#676767"/>
<rect x="595.7" y="426.2" width="15.60" height="7.30" fill="#676767"/>
<rect x="595.7" y="442.5" width="15.60" height="7.30" fill="#676767"/>
<rect x="595.7" y="458.7" width="15.60" height="15.50" fill="#676767"/>
<text x="176" y="27.2" class="lab" text-anchor="end">China mainland and HK</text>
<text x="168.6" y="61.4" class="lab" text-anchor="end">Japan</text>
<text x="166.6" y="117.4" class="lab" text-anchor="end">USA</text>
<text x="171.8" y="172.5" class="lab" text-anchor="end">Europe 7</text>
<text x="175.2" y="236.3" class="lab" text-anchor="end">Southeast Asia 5</text>
<text x="172.1" y="259.8" class="lab" text-anchor="end">Rep. of Korea</text>
<text x="167.9" y="283.5" class="lab" text-anchor="end">Mexico</text>
<text x="177.8" y="325.7" class="lab" text-anchor="end">China mainland and HK</text>
<text x="176.3" y="350.3" class="lab" text-anchor="end">Japan</text>
<text x="174.1" y="382.2" class="lab" text-anchor="end">USA</text>
<text x="172.5" y="415" class="lab" text-anchor="end">Europe 7</text>
<text x="175.5" y="439.3" class="lab" text-anchor="end">Southeast Asia 5</text>
<text x="172.5" y="455.6" class="lab" text-anchor="end">Rep. of Korea</text>
<text x="168" y="471.5" class="lab" text-anchor="end">Mexico</text>
<text x="619.5" y="17.8" class="lab" text-anchor="start">Japan</text>
<text x="619.5" y="33.6" class="lab" text-anchor="start">USA</text>
<text x="619.5" y="50.7" class="lab" text-anchor="start">Europe 7</text>
<text x="619.5" y="65.6" class="lab" text-anchor="start">Southeast Asia 5</text>
<text x="619.5" y="81.3" class="lab" text-anchor="start">Rep. of Korea</text>
<text x="619.5" y="97" class="lab" text-anchor="start">Mexico</text>
<text x="619.5" y="196.5" class="lab" text-anchor="start">China mainland and HK</text>
<text x="619.5" y="318" class="lab" text-anchor="start">Japan</text>
<text x="619.5" y="333.7" class="lab" text-anchor="start">USA</text>
<text x="619.5" y="351.3" class="lab" text-anchor="start">Europe 7</text>
<text x="619.5" y="390.7" class="lab" text-anchor="start">Southeast Asia 5</text>
<text x="619.5" y="431.3" class="lab" text-anchor="start">Rep. of Korea</text>
<text x="619.5" y="448" class="lab" text-anchor="start">Mexico</text>
<text x="619.5" y="471.6" class="lab" text-anchor="start">China mainland and HK</text>
<text x="297.7" y="307.6" class="ttl" text-anchor="start">(a) Baseline Scenario</text>
<text x="311.5" y="501.3" class="ttl" text-anchor="start">(b) 2018 Scenario</text>
<rect x="791.8" y="360.9" width="20.1" height="8.6" fill="#4cbdcc"/>
<text x="816.4" y="369.5" class="leg" text-anchor="start">PE</text>
<rect x="791.8" y="381.4" width="20.1" height="8.6" fill="#e04f99"/>
<text x="816.4" y="390.0" class="leg" text-anchor="start">PS</text>
<rect x="791.8" y="401.9" width="20.1" height="8.6" fill="#6cbb4c"/>
<text x="816.4" y="410.5" class="leg" text-anchor="start">PVC</text>
<rect x="791.8" y="422.4" width="20.1" height="8.6" fill="#fbd930"/>
<text x="816.4" y="431.0" class="leg" text-anchor="start">PET</text>
<rect x="791.8" y="442.1" width="20.1" height="8.6" fill="#8d1b6d"/>
<text x="816.4" y="450.70000000000005" class="leg" text-anchor="start">PP</text>
<rect x="791.8" y="462.2" width="20.1" height="8.6" fill="#1e76b7"/>
<text x="816.4" y="470.8" class="leg" text-anchor="start">Other</text>
<rect x="219.4" y="513.8" width="320" height="50.5" rx="4" fill="#f5f5f6"/>
<text x="223.3" y="547.2" class="mass" text-anchor="start">Mass</text>
<polygon points="310.1,521.1 386.2,521.1 392.2,530.7 386.2,540.4 310.1,540.4 316,530.7" fill="#236132"/>
<rect x="400.7" y="529.5" width="65.3" height="2.4" fill="#1d5a27"/>
<rect x="474" y="530.2" width="57.6" height="1.1" fill="#6b8a70"/>
<text x="318" y="558" class="kg" text-anchor="start">700000 kg</text>
<text x="400.7" y="557.9" class="kg" text-anchor="start">100000 kg</text>
<text x="474" y="557.9" class="kg" text-anchor="start">30000 kg</text>
</svg>
</body></html>
